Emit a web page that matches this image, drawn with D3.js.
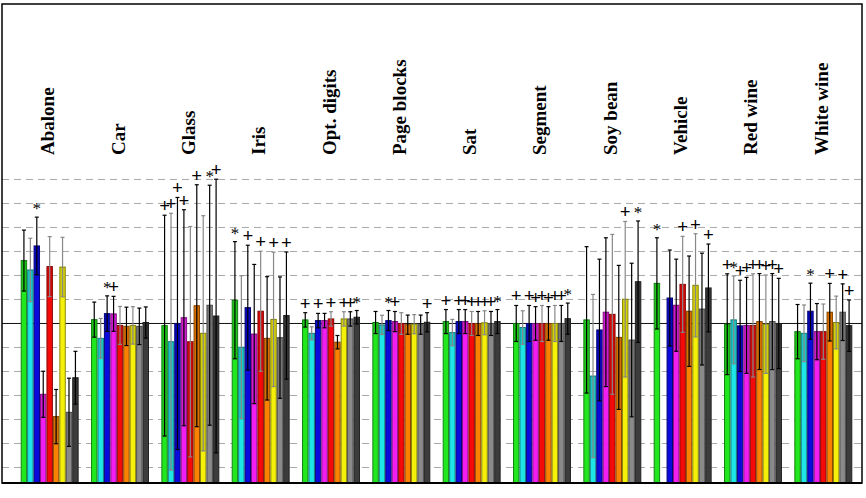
<!DOCTYPE html>
<html><head><meta charset="utf-8">
<script src="https://cdn.jsdelivr.net/npm/d3@7/dist/d3.min.js"></script>
<style>html,body{margin:0;padding:0;background:#fff}</style>
</head><body>
<svg id="c" width="866" height="498"></svg>
<script>
const categories = ["Abalone","Car","Glass","Iris","Opt. digits","Page blocks","Sat","Segment","Soy bean","Vehicle","Red wine","White wine"];
const series = ["S1","S2","S3","S4","S5","S6","S7","S8","S9"];
const colors = ["#22e61e","#1ee6e6","#0a0adc","#f01ef0","#f50a0a","#fa8200","#f5f00a","#8a8a8a","#3c3c3c"];
const errColors = ["#000","#888","#000","#000","#888","#000","#888","#000","#000"];
// mean per category (rows) and series (columns)
const means = [
  [2.62, 2.23, 3.23, -2.95, 2.37, -3.88, 2.35, -3.70, -2.26],
  [0.16, -0.62, 0.41, 0.40, -0.08, -0.12, -0.08, -0.12, 0.04],
  [-0.09, -0.76, 0.00, 0.24, -0.76, 0.74, -0.41, 0.76, 0.31],
  [0.97, -0.99, 0.66, -0.44, 0.51, -0.62, 0.17, -0.59, 0.33],
  [0.15, -0.41, 0.12, 0.12, 0.19, -0.78, 0.19, 0.19, 0.26],
  [0.04, -0.06, 0.12, 0.08, 0.00, -0.05, -0.03, -0.05, 0.05],
  [0.08, -0.38, 0.08, 0.08, 0.00, 0.00, 0.03, 0.00, 0.08],
  [0.00, -0.17, 0.00, 0.00, 0.00, 0.00, 0.00, 0.00, 0.20],
  [0.15, -2.19, -0.27, 0.47, 0.38, -0.58, 1.01, -0.69, 1.74],
  [1.67, null, 1.06, 0.76, 1.63, 0.51, 1.59, 0.60, 1.48],
  [-0.03, 0.15, -0.10, -0.08, -0.08, 0.08, -0.03, 0.08, 0.00],
  [-0.34, -0.41, 0.51, -0.34, -0.34, 0.47, 0.04, 0.47, -0.09]
];
const errs = [
  [1.27, 1.32, 1.20, 0.96, 1.25, 1.13, 1.24, 1.42, 1.10],
  [0.73, 0.83, 0.74, 0.73, 0.79, 0.80, 0.78, 0.76, 0.65],
  [4.60, 5.35, 5.25, 4.50, 4.80, 5.04, 4.90, 5.00, 5.70],
  [2.44, 2.98, 2.60, 2.90, 2.50, 2.57, 2.80, 2.53, 2.65],
  [0.30, 0.27, 0.30, 0.30, 0.30, 0.28, 0.30, 0.30, 0.28],
  [0.46, 0.40, 0.42, 0.42, 0.45, 0.40, 0.40, 0.40, 0.40],
  [0.50, 0.55, 0.50, 0.50, 0.50, 0.50, 0.50, 0.50, 0.50],
  [0.75, 0.70, 0.75, 0.70, 0.75, 0.70, 0.75, 0.75, 0.65],
  [3.05, 3.40, 2.95, 3.10, 3.33, 3.00, 3.24, 3.20, 2.53],
  [1.90, null, 2.00, 1.92, 2.00, 2.30, 2.15, 2.33, 1.83],
  [2.10, 1.83, 1.90, 2.00, 2.15, 2.00, 2.05, 2.00, 1.88],
  [1.13, 1.18, 1.17, 1.17, 1.15, 1.20, 1.10, 1.18, 1.07]
];
const markers = [
  "  *      ",
  "  *+     ",
  "++++ + *+",
  "* + + + +",
  "+ + + ++*",
  "  *+    +",
  "+ ++++++*",
  "+ ++++++*",
  "      + *",
  "*   + + +",
  "+*+++++++",
  "  *  + ++"
];
const gridTicks = [-6,-5,-4,-3,-2,-1,1,2,3,4,5,6];

const svg = d3.select("#c");
const L = 2, R = 862, T = 4, B = 483;
const y = d3.scaleLinear().domain([-6.646, 13.31]).range([B, T]);
const x0 = d3.scaleBand().domain(categories).range([20.7, 852.3]).paddingInner(0.176).paddingOuter(0);
const x1 = d3.scaleBand().domain(series).range([0, x0.bandwidth()]);
const ymin = y.domain()[0];

// grid
svg.append("g").selectAll("line").data(gridTicks).join("line")
  .attr("x1", L).attr("x2", R).attr("y1", d => y(d)).attr("y2", d => y(d))
  .attr("stroke", "#a8a8a8").attr("stroke-width", 1).attr("stroke-dasharray", "7,5");
svg.append("line").attr("x1", L).attr("x2", R).attr("y1", y(0)).attr("y2", y(0))
  .attr("stroke", "#111").attr("stroke-width", 1);

const items = [];
categories.forEach((c, i) => series.forEach((s, j) => {
  if (means[i][j] == null) return;
  items.push({c, s, i, j, m: means[i][j], e: errs[i][j], mk: markers[i][j] || " "});
}));

const g = svg.append("g");
const bw = x1.bandwidth();
// bars
g.selectAll("rect.bar").data(items).join("rect").attr("class","bar")
  .attr("x", d => x0(d.c) + x1(d.s) + 0.5)
  .attr("width", bw - 1)
  .attr("y", d => y(d.m))
  .attr("height", d => B - y(d.m))
  .attr("fill", d => colors[d.j])
  .attr("stroke", d => d3.color(colors[d.j]).darker(1.6))
  .attr("stroke-width", 1);
// shading within bar over lower error
g.selectAll("rect.sh").data(items).join("rect").attr("class","sh")
  .attr("x", d => x0(d.c) + x1(d.s) + 1)
  .attr("width", bw - 2)
  .attr("y", d => y(d.m))
  .attr("height", d => y(Math.max(d.m - d.e, ymin)) - y(d.m))
  .attr("fill", "#000").attr("opacity", 0.14);
// error bars
const eg = g.selectAll("g.err").data(items).join("g").attr("class","err")
  .attr("stroke", d => errColors[d.j]).attr("stroke-width", 1.2);
const cx = d => x0(d.c) + x1(d.s) + bw / 2;
eg.append("line").attr("x1", cx).attr("x2", cx)
  .attr("y1", d => y(d.m + d.e)).attr("y2", d => y(Math.max(d.m - d.e, ymin)));
eg.append("line").attr("x1", d => cx(d) - 2).attr("x2", d => cx(d) + 2)
  .attr("y1", d => y(d.m + d.e)).attr("y2", d => y(d.m + d.e));
eg.filter(d => d.m - d.e > ymin).append("line").attr("x1", d => cx(d) - 2).attr("x2", d => cx(d) + 2)
  .attr("y1", d => y(d.m - d.e)).attr("y2", d => y(d.m - d.e));
// markers
g.selectAll("text.mk").data(items.filter(d => d.mk !== " ")).join("text").attr("class","mk")
  .attr("x", cx).attr("y", d => y(d.m + d.e) - 3)
  .attr("text-anchor", "middle")
  .attr("font-family", "Liberation Serif, serif")
  .attr("font-size", d => d.mk === "+" ? 19 : 17)
  .attr("font-weight", d => d.mk === "+" ? "bold" : "normal")
  .attr("fill", "#000")
  .text(d => d.mk);

// category labels
svg.append("g").selectAll("text").data(categories).join("text")
  .attr("transform", d => `translate(${x0(d) + x0.bandwidth() / 2 + 4.5},155) rotate(-90)`)
  .attr("text-anchor", "start")
  .attr("font-family", "Liberation Serif, serif")
  .attr("font-weight", "bold")
  .attr("font-size", 19)
  .attr("fill", "#000")
  .text(d => d);

// frame
svg.append("rect").attr("x", L).attr("y", T).attr("width", R - L).attr("height", B - T)
  .attr("fill", "none").attr("stroke", "#000").attr("stroke-width", 1.5);
svg.append("line").attr("x1", L).attr("x2", R).attr("y1", B).attr("y2", B)
  .attr("stroke", "#000").attr("stroke-width", 2);
</script>
</body></html>
